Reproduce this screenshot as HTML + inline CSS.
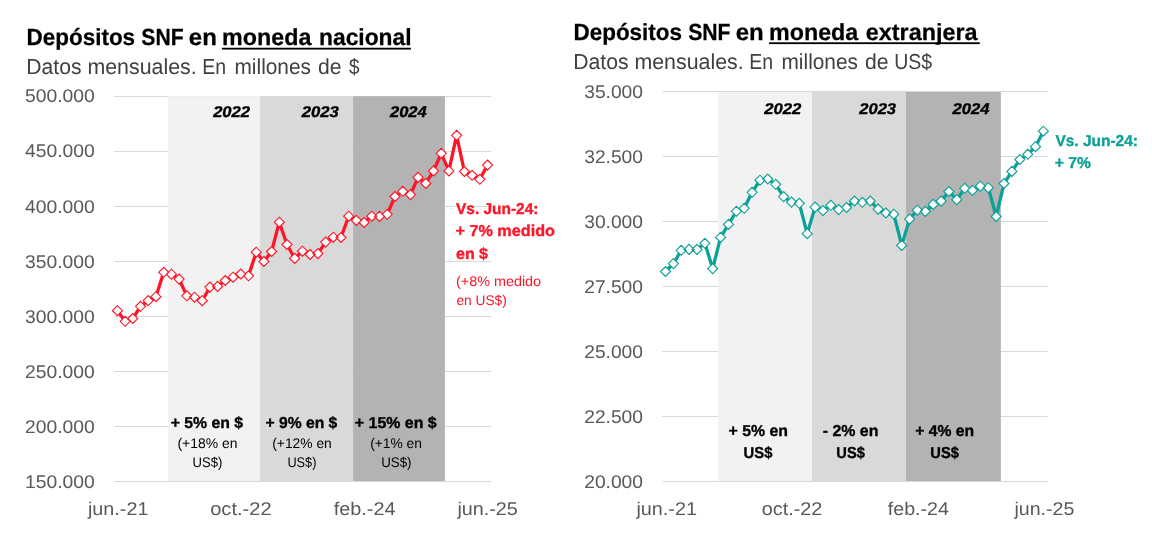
<!DOCTYPE html>
<html lang="es"><head><meta charset="utf-8"><title>Depósitos SNF</title>
<style>html,body{margin:0;padding:0;background:#fff}body{width:1152px;height:556px;overflow:hidden}svg{display:block}text{white-space:pre}</style></head>
<body>
<svg width="1152" height="556" viewBox="0 0 1152 556" font-family="'Liberation Sans', Arial, sans-serif" text-rendering="geometricPrecision">
<rect width="1152" height="556" fill="#fff"/>
<g id="left">
<line x1="114.20" x2="491.20" y1="96.50" y2="96.50" stroke="#D9D9D9" stroke-width="1"/>
<line x1="114.20" x2="491.20" y1="151.50" y2="151.50" stroke="#D9D9D9" stroke-width="1"/>
<line x1="114.20" x2="491.20" y1="206.50" y2="206.50" stroke="#D9D9D9" stroke-width="1"/>
<line x1="114.20" x2="491.20" y1="261.50" y2="261.50" stroke="#D9D9D9" stroke-width="1"/>
<line x1="114.20" x2="491.20" y1="316.50" y2="316.50" stroke="#D9D9D9" stroke-width="1"/>
<line x1="114.20" x2="491.20" y1="371.50" y2="371.50" stroke="#D9D9D9" stroke-width="1"/>
<line x1="114.20" x2="491.20" y1="426.50" y2="426.50" stroke="#D9D9D9" stroke-width="1"/>
<line x1="114.20" x2="491.20" y1="481.50" y2="481.50" stroke="#D9D9D9" stroke-width="1"/>
<rect x="168.05" y="96.20" width="92.05" height="384.80" fill="#F2F2F2"/>
<rect x="260.10" y="96.20" width="93.00" height="384.80" fill="#D9D9D9"/>
<rect x="353.10" y="96.20" width="91.80" height="384.80" fill="#B3B3B3"/>
<polyline fill="none" stroke="#FE1528" stroke-width="3.3" stroke-linejoin="round" stroke-linecap="round" points="117.4,310.7 125.1,321.3 132.8,318.5 140.5,306.3 148.2,300.6 155.9,296.7 163.7,272.3 171.4,274.2 179.1,279.1 186.8,295.8 194.5,297.2 202.2,300.7 209.9,287.1 217.6,286.4 225.3,280.5 233.1,277.2 240.8,274.0 248.5,275.8 256.2,252.2 263.9,261.5 271.6,251.5 279.3,222.2 287.0,244.5 294.7,258.4 302.4,251.2 310.1,254.5 317.9,253.6 325.6,242.1 333.3,237.2 341.0,237.5 348.7,216.2 356.4,220.4 364.1,222.5 371.8,216.2 379.5,216.4 387.2,214.3 395.0,196.5 402.7,191.3 410.4,194.6 418.1,177.4 425.8,183.4 433.5,170.9 441.2,153.3 448.9,170.9 456.6,135.3 464.4,171.5 472.1,175.3 479.8,179.3 487.5,165.1"/>
<path d="M112.4 310.7l5.0 -5.0l5.0 5.0l-5.0 5.0zM120.1 321.3l5.0 -5.0l5.0 5.0l-5.0 5.0zM127.8 318.5l5.0 -5.0l5.0 5.0l-5.0 5.0zM135.5 306.3l5.0 -5.0l5.0 5.0l-5.0 5.0zM143.2 300.6l5.0 -5.0l5.0 5.0l-5.0 5.0zM150.9 296.7l5.0 -5.0l5.0 5.0l-5.0 5.0zM158.7 272.3l5.0 -5.0l5.0 5.0l-5.0 5.0zM166.4 274.2l5.0 -5.0l5.0 5.0l-5.0 5.0zM174.1 279.1l5.0 -5.0l5.0 5.0l-5.0 5.0zM181.8 295.8l5.0 -5.0l5.0 5.0l-5.0 5.0zM189.5 297.2l5.0 -5.0l5.0 5.0l-5.0 5.0zM197.2 300.7l5.0 -5.0l5.0 5.0l-5.0 5.0zM204.9 287.1l5.0 -5.0l5.0 5.0l-5.0 5.0zM212.6 286.4l5.0 -5.0l5.0 5.0l-5.0 5.0zM220.3 280.5l5.0 -5.0l5.0 5.0l-5.0 5.0zM228.1 277.2l5.0 -5.0l5.0 5.0l-5.0 5.0zM235.8 274.0l5.0 -5.0l5.0 5.0l-5.0 5.0zM243.5 275.8l5.0 -5.0l5.0 5.0l-5.0 5.0zM251.2 252.2l5.0 -5.0l5.0 5.0l-5.0 5.0zM258.9 261.5l5.0 -5.0l5.0 5.0l-5.0 5.0zM266.6 251.5l5.0 -5.0l5.0 5.0l-5.0 5.0zM274.3 222.2l5.0 -5.0l5.0 5.0l-5.0 5.0zM282.0 244.5l5.0 -5.0l5.0 5.0l-5.0 5.0zM289.7 258.4l5.0 -5.0l5.0 5.0l-5.0 5.0zM297.4 251.2l5.0 -5.0l5.0 5.0l-5.0 5.0zM305.1 254.5l5.0 -5.0l5.0 5.0l-5.0 5.0zM312.9 253.6l5.0 -5.0l5.0 5.0l-5.0 5.0zM320.6 242.1l5.0 -5.0l5.0 5.0l-5.0 5.0zM328.3 237.2l5.0 -5.0l5.0 5.0l-5.0 5.0zM336.0 237.5l5.0 -5.0l5.0 5.0l-5.0 5.0zM343.7 216.2l5.0 -5.0l5.0 5.0l-5.0 5.0zM351.4 220.4l5.0 -5.0l5.0 5.0l-5.0 5.0zM359.1 222.5l5.0 -5.0l5.0 5.0l-5.0 5.0zM366.8 216.2l5.0 -5.0l5.0 5.0l-5.0 5.0zM374.5 216.4l5.0 -5.0l5.0 5.0l-5.0 5.0zM382.2 214.3l5.0 -5.0l5.0 5.0l-5.0 5.0zM390.0 196.5l5.0 -5.0l5.0 5.0l-5.0 5.0zM397.7 191.3l5.0 -5.0l5.0 5.0l-5.0 5.0zM405.4 194.6l5.0 -5.0l5.0 5.0l-5.0 5.0zM413.1 177.4l5.0 -5.0l5.0 5.0l-5.0 5.0zM420.8 183.4l5.0 -5.0l5.0 5.0l-5.0 5.0zM428.5 170.9l5.0 -5.0l5.0 5.0l-5.0 5.0zM436.2 153.3l5.0 -5.0l5.0 5.0l-5.0 5.0zM443.9 170.9l5.0 -5.0l5.0 5.0l-5.0 5.0zM451.6 135.3l5.0 -5.0l5.0 5.0l-5.0 5.0zM459.4 171.5l5.0 -5.0l5.0 5.0l-5.0 5.0zM467.1 175.3l5.0 -5.0l5.0 5.0l-5.0 5.0zM474.8 179.3l5.0 -5.0l5.0 5.0l-5.0 5.0zM482.5 165.1l5.0 -5.0l5.0 5.0l-5.0 5.0z" fill="#fff" stroke="#FE1528" stroke-width="1.15"/>
</g>
<g id="right">
<line x1="662.30" x2="1047.60" y1="91.50" y2="91.50" stroke="#D9D9D9" stroke-width="1"/>
<line x1="662.30" x2="1047.60" y1="156.50" y2="156.50" stroke="#D9D9D9" stroke-width="1"/>
<line x1="662.30" x2="1047.60" y1="221.50" y2="221.50" stroke="#D9D9D9" stroke-width="1"/>
<line x1="662.30" x2="1047.60" y1="286.50" y2="286.50" stroke="#D9D9D9" stroke-width="1"/>
<line x1="662.30" x2="1047.60" y1="351.50" y2="351.50" stroke="#D9D9D9" stroke-width="1"/>
<line x1="662.30" x2="1047.60" y1="416.50" y2="416.50" stroke="#D9D9D9" stroke-width="1"/>
<line x1="662.30" x2="1047.60" y1="481.50" y2="481.50" stroke="#D9D9D9" stroke-width="1"/>
<rect x="718.10" y="92.00" width="93.90" height="389.00" fill="#F2F2F2"/>
<rect x="812.00" y="92.00" width="94.00" height="389.00" fill="#D9D9D9"/>
<rect x="906.00" y="92.00" width="94.85" height="389.00" fill="#B3B3B3"/>
<polyline fill="none" stroke="#0CA197" stroke-width="3.3" stroke-linejoin="round" stroke-linecap="round" points="665.5,271.5 673.4,263.6 681.2,250.3 689.1,249.4 697.0,249.4 704.9,243.3 712.7,268.6 720.6,237.4 728.5,224.4 736.4,211.3 744.2,208.3 752.1,192.3 760.0,180.2 767.8,179.0 775.7,184.3 783.6,196.6 791.5,202.1 799.3,203.3 807.2,233.7 815.1,207.1 823.0,210.6 830.8,205.3 838.7,209.6 846.6,207.5 854.5,201.0 862.3,202.3 870.2,201.0 878.1,209.1 885.9,213.0 893.8,214.2 901.7,245.4 909.6,219.1 917.4,210.2 925.3,211.4 933.2,204.4 941.1,201.1 948.9,191.5 956.8,199.7 964.7,188.3 972.5,190.4 980.4,186.2 988.3,187.7 996.2,216.5 1004.0,183.5 1011.9,171.4 1019.8,159.5 1027.7,154.3 1035.5,146.7 1043.4,131.2"/>
<path d="M660.5 271.5l5.0 -5.0l5.0 5.0l-5.0 5.0zM668.4 263.6l5.0 -5.0l5.0 5.0l-5.0 5.0zM676.2 250.3l5.0 -5.0l5.0 5.0l-5.0 5.0zM684.1 249.4l5.0 -5.0l5.0 5.0l-5.0 5.0zM692.0 249.4l5.0 -5.0l5.0 5.0l-5.0 5.0zM699.9 243.3l5.0 -5.0l5.0 5.0l-5.0 5.0zM707.7 268.6l5.0 -5.0l5.0 5.0l-5.0 5.0zM715.6 237.4l5.0 -5.0l5.0 5.0l-5.0 5.0zM723.5 224.4l5.0 -5.0l5.0 5.0l-5.0 5.0zM731.4 211.3l5.0 -5.0l5.0 5.0l-5.0 5.0zM739.2 208.3l5.0 -5.0l5.0 5.0l-5.0 5.0zM747.1 192.3l5.0 -5.0l5.0 5.0l-5.0 5.0zM755.0 180.2l5.0 -5.0l5.0 5.0l-5.0 5.0zM762.8 179.0l5.0 -5.0l5.0 5.0l-5.0 5.0zM770.7 184.3l5.0 -5.0l5.0 5.0l-5.0 5.0zM778.6 196.6l5.0 -5.0l5.0 5.0l-5.0 5.0zM786.5 202.1l5.0 -5.0l5.0 5.0l-5.0 5.0zM794.3 203.3l5.0 -5.0l5.0 5.0l-5.0 5.0zM802.2 233.7l5.0 -5.0l5.0 5.0l-5.0 5.0zM810.1 207.1l5.0 -5.0l5.0 5.0l-5.0 5.0zM818.0 210.6l5.0 -5.0l5.0 5.0l-5.0 5.0zM825.8 205.3l5.0 -5.0l5.0 5.0l-5.0 5.0zM833.7 209.6l5.0 -5.0l5.0 5.0l-5.0 5.0zM841.6 207.5l5.0 -5.0l5.0 5.0l-5.0 5.0zM849.5 201.0l5.0 -5.0l5.0 5.0l-5.0 5.0zM857.3 202.3l5.0 -5.0l5.0 5.0l-5.0 5.0zM865.2 201.0l5.0 -5.0l5.0 5.0l-5.0 5.0zM873.1 209.1l5.0 -5.0l5.0 5.0l-5.0 5.0zM880.9 213.0l5.0 -5.0l5.0 5.0l-5.0 5.0zM888.8 214.2l5.0 -5.0l5.0 5.0l-5.0 5.0zM896.7 245.4l5.0 -5.0l5.0 5.0l-5.0 5.0zM904.6 219.1l5.0 -5.0l5.0 5.0l-5.0 5.0zM912.4 210.2l5.0 -5.0l5.0 5.0l-5.0 5.0zM920.3 211.4l5.0 -5.0l5.0 5.0l-5.0 5.0zM928.2 204.4l5.0 -5.0l5.0 5.0l-5.0 5.0zM936.1 201.1l5.0 -5.0l5.0 5.0l-5.0 5.0zM943.9 191.5l5.0 -5.0l5.0 5.0l-5.0 5.0zM951.8 199.7l5.0 -5.0l5.0 5.0l-5.0 5.0zM959.7 188.3l5.0 -5.0l5.0 5.0l-5.0 5.0zM967.5 190.4l5.0 -5.0l5.0 5.0l-5.0 5.0zM975.4 186.2l5.0 -5.0l5.0 5.0l-5.0 5.0zM983.3 187.7l5.0 -5.0l5.0 5.0l-5.0 5.0zM991.2 216.5l5.0 -5.0l5.0 5.0l-5.0 5.0zM999.0 183.5l5.0 -5.0l5.0 5.0l-5.0 5.0zM1006.9 171.4l5.0 -5.0l5.0 5.0l-5.0 5.0zM1014.8 159.5l5.0 -5.0l5.0 5.0l-5.0 5.0zM1022.7 154.3l5.0 -5.0l5.0 5.0l-5.0 5.0zM1030.5 146.7l5.0 -5.0l5.0 5.0l-5.0 5.0zM1038.4 131.2l5.0 -5.0l5.0 5.0l-5.0 5.0z" fill="#fff" stroke="#0CA197" stroke-width="1.15"/>
</g>
<rect x="221.9" y="47.75" width="189.0" height="1.8" fill="#000"/>
<rect x="769.0" y="42.3" width="210.8" height="1.8" fill="#000"/>
<text font-size="23.3" fill="#000" font-weight="bold" stroke="#000" stroke-width="0.25"><tspan x="26.60" y="45.00" textLength="108.52" lengthAdjust="spacingAndGlyphs">Depósitos</tspan> <tspan x="141.29" y="45.00" textLength="42.33" lengthAdjust="spacingAndGlyphs">SNF</tspan> <tspan x="188.86" y="45.00" textLength="28.03" lengthAdjust="spacingAndGlyphs">en</tspan> <tspan x="222.12" y="45.00" textLength="89.24" lengthAdjust="spacingAndGlyphs">moneda</tspan> <tspan x="318.99" y="45.00" textLength="92.62" lengthAdjust="spacingAndGlyphs">nacional</tspan></text>
<text font-size="23.3" fill="#000" font-weight="bold" stroke="#000" stroke-width="0.25"><tspan x="573.50" y="40.00" textLength="108.52" lengthAdjust="spacingAndGlyphs">Depósitos</tspan> <tspan x="688.19" y="40.00" textLength="42.33" lengthAdjust="spacingAndGlyphs">SNF</tspan> <tspan x="735.76" y="40.00" textLength="28.03" lengthAdjust="spacingAndGlyphs">en</tspan> <tspan x="769.02" y="40.00" textLength="89.24" lengthAdjust="spacingAndGlyphs">moneda</tspan> <tspan x="865.79" y="40.00" textLength="111.76" lengthAdjust="spacingAndGlyphs">extranjera</tspan></text>
<text font-size="21.7" fill="#404040"><tspan x="26.26" y="74.00" textLength="55.30" lengthAdjust="spacingAndGlyphs">Datos</tspan> <tspan x="87.48" y="74.00" textLength="109.17" lengthAdjust="spacingAndGlyphs">mensuales.</tspan> <tspan x="202.20" y="74.00" textLength="23.87" lengthAdjust="spacingAndGlyphs">En</tspan> <tspan x="234.52" y="74.00" textLength="76.44" lengthAdjust="spacingAndGlyphs">millones</tspan> <tspan x="318.01" y="74.00" textLength="23.53" lengthAdjust="spacingAndGlyphs">de</tspan> <tspan x="349.10" y="74.00" textLength="10.51" lengthAdjust="spacingAndGlyphs">$</tspan></text>
<text font-size="21.7" fill="#404040"><tspan x="573.26" y="69.00" textLength="55.30" lengthAdjust="spacingAndGlyphs">Datos</tspan> <tspan x="634.48" y="69.00" textLength="109.17" lengthAdjust="spacingAndGlyphs">mensuales.</tspan> <tspan x="749.20" y="69.00" textLength="23.87" lengthAdjust="spacingAndGlyphs">En</tspan> <tspan x="781.52" y="69.00" textLength="76.44" lengthAdjust="spacingAndGlyphs">millones</tspan> <tspan x="865.01" y="69.00" textLength="23.53" lengthAdjust="spacingAndGlyphs">de</tspan> <tspan x="894.30" y="69.00" textLength="37.92" lengthAdjust="spacingAndGlyphs">US$</tspan></text>
<text x="25.13" y="102.00" textLength="69.62" lengthAdjust="spacingAndGlyphs" font-size="18.4" fill="#595959">500.000</text>
<text x="25.13" y="157.00" textLength="69.62" lengthAdjust="spacingAndGlyphs" font-size="18.4" fill="#595959">450.000</text>
<text x="25.13" y="213.00" textLength="69.62" lengthAdjust="spacingAndGlyphs" font-size="18.4" fill="#595959">400.000</text>
<text x="25.13" y="268.00" textLength="69.62" lengthAdjust="spacingAndGlyphs" font-size="18.4" fill="#595959">350.000</text>
<text x="25.13" y="323.00" textLength="69.62" lengthAdjust="spacingAndGlyphs" font-size="18.4" fill="#595959">300.000</text>
<text x="25.13" y="378.00" textLength="69.62" lengthAdjust="spacingAndGlyphs" font-size="18.4" fill="#595959">250.000</text>
<text x="25.13" y="433.00" textLength="69.62" lengthAdjust="spacingAndGlyphs" font-size="18.4" fill="#595959">200.000</text>
<text x="25.13" y="488.00" textLength="69.62" lengthAdjust="spacingAndGlyphs" font-size="18.4" fill="#595959">150.000</text>
<text x="584.27" y="98.00" textLength="58.68" lengthAdjust="spacingAndGlyphs" font-size="18.4" fill="#595959">35.000</text>
<text x="584.27" y="163.00" textLength="58.68" lengthAdjust="spacingAndGlyphs" font-size="18.4" fill="#595959">32.500</text>
<text x="584.27" y="228.00" textLength="58.68" lengthAdjust="spacingAndGlyphs" font-size="18.4" fill="#595959">30.000</text>
<text x="584.27" y="293.00" textLength="58.68" lengthAdjust="spacingAndGlyphs" font-size="18.4" fill="#595959">27.500</text>
<text x="584.27" y="358.00" textLength="58.68" lengthAdjust="spacingAndGlyphs" font-size="18.4" fill="#595959">25.000</text>
<text x="584.27" y="423.00" textLength="58.68" lengthAdjust="spacingAndGlyphs" font-size="18.4" fill="#595959">22.500</text>
<text x="584.27" y="488.00" textLength="58.68" lengthAdjust="spacingAndGlyphs" font-size="18.4" fill="#595959">20.000</text>
<text x="87.98" y="515.00" textLength="60.48" lengthAdjust="spacingAndGlyphs" font-size="18.4" fill="#595959">jun.-21</text>
<text x="210.15" y="515.00" textLength="61.61" lengthAdjust="spacingAndGlyphs" font-size="18.4" fill="#595959">oct.-22</text>
<text x="333.72" y="515.00" textLength="61.86" lengthAdjust="spacingAndGlyphs" font-size="18.4" fill="#595959">feb.-24</text>
<text x="457.48" y="515.00" textLength="60.35" lengthAdjust="spacingAndGlyphs" font-size="18.4" fill="#595959">jun.-25</text>
<text x="636.48" y="515.00" textLength="60.48" lengthAdjust="spacingAndGlyphs" font-size="18.4" fill="#595959">jun.-21</text>
<text x="761.67" y="515.00" textLength="60.73" lengthAdjust="spacingAndGlyphs" font-size="18.4" fill="#595959">oct.-22</text>
<text x="887.72" y="515.00" textLength="61.26" lengthAdjust="spacingAndGlyphs" font-size="18.4" fill="#595959">feb.-24</text>
<text x="1014.48" y="515.00" textLength="59.84" lengthAdjust="spacingAndGlyphs" font-size="18.4" fill="#595959">jun.-25</text>
<text x="213.16" y="117.00" textLength="36.81" lengthAdjust="spacingAndGlyphs" font-size="15.5" fill="#000" font-weight="bold" stroke="#000" stroke-width="0.35" font-style="italic">2022</text>
<text x="301.66" y="117.00" textLength="37.13" lengthAdjust="spacingAndGlyphs" font-size="15.5" fill="#000" font-weight="bold" stroke="#000" stroke-width="0.35" font-style="italic">2023</text>
<text x="389.96" y="117.00" textLength="36.72" lengthAdjust="spacingAndGlyphs" font-size="15.5" fill="#000" font-weight="bold" stroke="#000" stroke-width="0.35" font-style="italic">2024</text>
<text x="764.16" y="114.00" textLength="37.11" lengthAdjust="spacingAndGlyphs" font-size="15.5" fill="#000" font-weight="bold" stroke="#000" stroke-width="0.35" font-style="italic">2022</text>
<text x="859.26" y="114.00" textLength="36.83" lengthAdjust="spacingAndGlyphs" font-size="15.5" fill="#000" font-weight="bold" stroke="#000" stroke-width="0.35" font-style="italic">2023</text>
<text x="952.46" y="114.00" textLength="37.02" lengthAdjust="spacingAndGlyphs" font-size="15.5" fill="#000" font-weight="bold" stroke="#000" stroke-width="0.35" font-style="italic">2024</text>
<text x="170.74" y="428.00" textLength="72.39" lengthAdjust="spacingAndGlyphs" font-size="15.8" fill="#000" font-weight="bold" stroke="#000" stroke-width="0.35">+ 5% en $</text>
<text x="177.44" y="448.00" textLength="59.97" lengthAdjust="spacingAndGlyphs" font-size="14.0" fill="#000">(+18% en</text>
<text x="192.59" y="467.00" textLength="29.82" lengthAdjust="spacingAndGlyphs" font-size="14.0" fill="#000">US$)</text>
<text x="265.44" y="428.00" textLength="71.88" lengthAdjust="spacingAndGlyphs" font-size="15.8" fill="#000" font-weight="bold" stroke="#000" stroke-width="0.35">+ 9% en $</text>
<text x="272.24" y="448.00" textLength="59.55" lengthAdjust="spacingAndGlyphs" font-size="14.0" fill="#000">(+12% en</text>
<text x="287.42" y="467.00" textLength="28.97" lengthAdjust="spacingAndGlyphs" font-size="14.0" fill="#000">US$)</text>
<text x="354.83" y="428.00" textLength="81.79" lengthAdjust="spacingAndGlyphs" font-size="15.8" fill="#000" font-weight="bold" stroke="#000" stroke-width="0.35">+ 15% en $</text>
<text x="370.14" y="448.00" textLength="51.85" lengthAdjust="spacingAndGlyphs" font-size="14.0" fill="#000">(+1% en</text>
<text x="381.17" y="467.00" textLength="30.35" lengthAdjust="spacingAndGlyphs" font-size="14.0" fill="#000">US$)</text>
<text x="728.53" y="436.00" textLength="59.45" lengthAdjust="spacingAndGlyphs" font-size="15.8" fill="#000" font-weight="bold" stroke="#000" stroke-width="0.35">+ 5% en</text>
<text x="743.61" y="458.00" textLength="28.80" lengthAdjust="spacingAndGlyphs" font-size="15.8" fill="#000" font-weight="bold" stroke="#000" stroke-width="0.35">US$</text>
<text x="822.68" y="436.00" textLength="55.71" lengthAdjust="spacingAndGlyphs" font-size="15.8" fill="#000" font-weight="bold" stroke="#000" stroke-width="0.35">- 2% en</text>
<text x="836.32" y="458.00" textLength="28.49" lengthAdjust="spacingAndGlyphs" font-size="15.8" fill="#000" font-weight="bold" stroke="#000" stroke-width="0.35">US$</text>
<text x="915.24" y="436.00" textLength="58.93" lengthAdjust="spacingAndGlyphs" font-size="15.8" fill="#000" font-weight="bold" stroke="#000" stroke-width="0.35">+ 4% en</text>
<text x="930.32" y="458.00" textLength="28.49" lengthAdjust="spacingAndGlyphs" font-size="15.8" fill="#000" font-weight="bold" stroke="#000" stroke-width="0.35">US$</text>
<text x="455.99" y="214.00" textLength="82.49" lengthAdjust="spacingAndGlyphs" font-size="15.8" fill="#FE1528" font-weight="bold" stroke="#FE1528" stroke-width="0.35">Vs. Jun-24:</text>
<text x="455.52" y="236.00" textLength="99.41" lengthAdjust="spacingAndGlyphs" font-size="15.8" fill="#FE1528" font-weight="bold" stroke="#FE1528" stroke-width="0.35">+ 7% medido</text>
<text x="455.97" y="259.00" textLength="32.05" lengthAdjust="spacingAndGlyphs" font-size="15.8" fill="#FE1528" font-weight="bold" stroke="#FE1528" stroke-width="0.35">en $</text>
<text x="456.01" y="286.00" textLength="85.09" lengthAdjust="spacingAndGlyphs" font-size="14.0" fill="#FE1528">(+8% medido</text>
<text x="456.42" y="305.00" textLength="50.33" lengthAdjust="spacingAndGlyphs" font-size="14.0" fill="#FE1528">en US$)</text>
<text x="1055.39" y="146.00" textLength="82.60" lengthAdjust="spacingAndGlyphs" font-size="15.8" fill="#0CA197" font-weight="bold" stroke="#0CA197" stroke-width="0.35">Vs. Jun-24:</text>
<text x="1054.74" y="168.00" textLength="36.07" lengthAdjust="spacingAndGlyphs" font-size="15.8" fill="#0CA197" font-weight="bold" stroke="#0CA197" stroke-width="0.35">+ 7%</text>
</svg>
</body></html>
